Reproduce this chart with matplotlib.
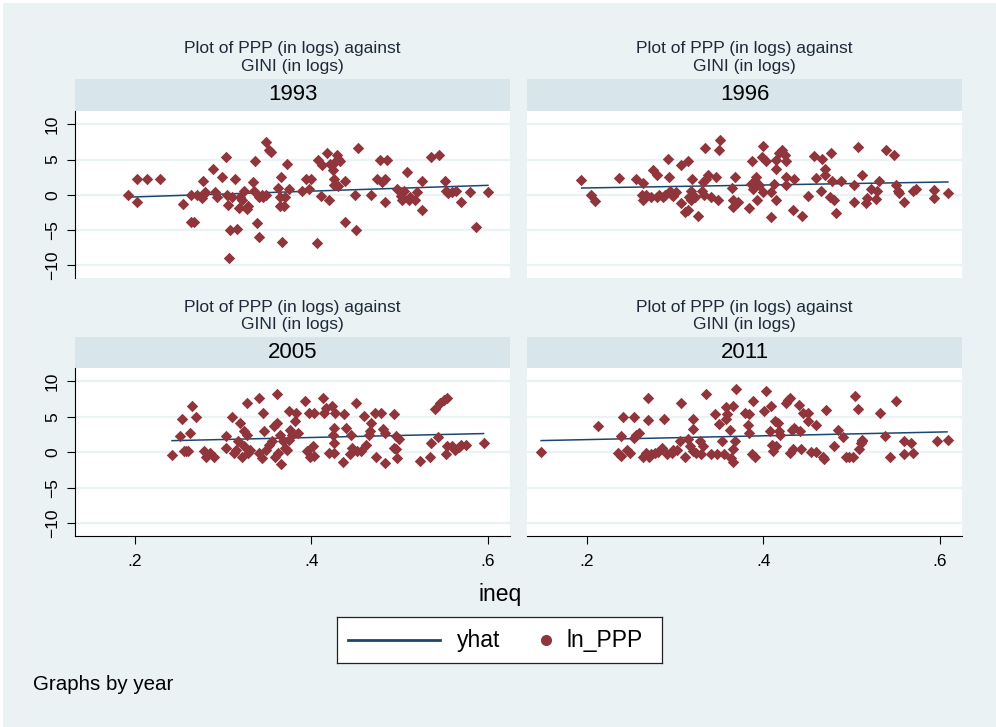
import matplotlib.pyplot as plt
from matplotlib.patches import Rectangle

plt.rcParams['font.family'] = ['Liberation Sans', 'DejaVu Sans']

# ineq (x) and ln_PPP (y) per year
years = ['1993', '1996', '2005', '2011']

ineq_1993 = [0.192, 0.202, 0.202, 0.214, 0.228, 0.254, 0.263, 0.264, 0.267, 0.270,
             0.277, 0.277, 0.279, 0.276, 0.288, 0.291, 0.293, 0.299, 0.303, 0.304,
             0.305, 0.306, 0.308, 0.310, 0.313, 0.316, 0.318, 0.319, 0.321, 0.323,
             0.327, 0.328, 0.334, 0.335, 0.336, 0.338, 0.340, 0.341, 0.344, 0.345,
             0.348, 0.349, 0.352, 0.354, 0.362, 0.364, 0.364, 0.365, 0.367, 0.369,
             0.370, 0.372, 0.375, 0.389, 0.394, 0.397, 0.399, 0.406, 0.407, 0.411,
             0.412, 0.418, 0.420, 0.421, 0.424, 0.425, 0.425, 0.427, 0.429, 0.430,
             0.432, 0.430, 0.438, 0.438, 0.449, 0.451, 0.453, 0.468, 0.474, 0.478,
             0.480, 0.483, 0.483, 0.486, 0.497, 0.501, 0.503, 0.505, 0.508, 0.510,
             0.512, 0.517, 0.520, 0.525, 0.525, 0.536, 0.544, 0.551, 0.553, 0.555,
             0.559, 0.564, 0.570, 0.580, 0.586, 0.600]
ppp_1993 = [0, -1.0, 2.3, 2.3, 2.3, -1.25, 0, -3.85, -3.85, 0,
            1.9, 0, 0.4, -0.45, 3.7, 0.4, -0.3, 2.5, 5.4, 0,
            -1.5, -8.9, -5.0, -0.3, 2.3, -4.8, -1.8, -0.3, -0.7, 0.6,
            -2.0, -1.6, 1.8, 0.6, 4.75, -4.0, -0.3, -6.0, 0, -0.3,
            0, 7.5, 6.4, 6.1, 1.0, -0.3, -1.6, 2.5, -6.7, -1.6,
            -0.3, 4.4, 0.9, 0.6, 2.3, 0.9, 2.3, -6.9, 5.0, -0.2,
            4.2, 5.9, -0.8, 4.4, 3.5, 2.2, 1.35, 4.7, 5.6, 5.1,
            4.8, 1.2, 2.0, -3.85, 0, -5.0, 6.6, 0, 2.2, 4.9,
            1.8, 2.2, -1.0, 4.9, 0.9, -0.1, -0.8, 0.6, 3.3, -0.8,
            -0.3, -0.7, 0.4, -2.2, 2.0, 5.4, 5.6, 1.9, 0.6, 0.2,
            0.4, 0.6, -1.0, 0.4, -4.5, 0.4]

ineq_1996 = [0.193, 0.205, 0.209, 0.236, 0.255, 0.264, 0.262, 0.263, 0.267, 0.273,
             0.275, 0.279, 0.279, 0.282, 0.286, 0.288, 0.292, 0.293, 0.294, 0.296,
             0.298, 0.301, 0.306, 0.306, 0.311, 0.314, 0.314, 0.316, 0.318, 0.319,
             0.318, 0.322, 0.326, 0.330, 0.331, 0.333, 0.334, 0.335, 0.337, 0.341,
             0.346, 0.349, 0.350, 0.351, 0.364, 0.365, 0.365, 0.368, 0.371, 0.384,
             0.386, 0.387, 0.388, 0.390, 0.392, 0.393, 0.395, 0.398, 0.399, 0.400,
             0.403, 0.409, 0.409, 0.412, 0.414, 0.414, 0.414, 0.418, 0.421, 0.424,
             0.426, 0.425, 0.426, 0.433, 0.435, 0.444, 0.450, 0.457, 0.459, 0.465,
             0.466, 0.470, 0.470, 0.475, 0.477, 0.478, 0.480, 0.482, 0.488, 0.503,
             0.503, 0.507, 0.512, 0.516, 0.517, 0.522, 0.527, 0.529, 0.531, 0.539,
             0.548, 0.550, 0.552, 0.554, 0.559, 0.569, 0.573, 0.593, 0.593, 0.609]
ppp_1996 = [2.05, 0, -0.9, 2.4, 2.3, 1.7, 0, -0.8, 0, -0.3,
            3.5, 2.8, -0.3, 0, -0.3, 0, 5.1, 2.5, 0.6, 0,
            -0.1, 0.4, 4.3, -1.1, -2.4, 4.8, -2.1, -0.3, 0.6, 2.2,
            -0.8, -0.3, -3.0, 0.6, 1.8, 0, 6.6, 2.3, 2.8, -0.3,
            2.6, -0.8, 6.3, 7.8, 1.0, -0.8, -1.7, 2.6, -1.0, -1.9,
            1.6, 4.8, 0.9, 2.0, 2.5, -0.8, 1.4, 5.4, 0.4, 7.0,
            4.8, -3.2, 0.4, 1.6, 3.7, -0.8, 5.0, 5.9, 6.4, 5.7,
            4.8, 2.5, 1.4, -2.1, 2.2, -3.0, -0.1, 5.5, 2.4, 0.6,
            5.1, 3.7, 2.8, -0.3, 5.9, 2.0, -0.8, -2.6, 2.0, 1.4,
            -1.0, 6.8, 2.8, -1.2, -0.5, 0.9, -0.6, 0.6, 2.0, 6.3,
            5.7, 1.4, 0.6, 0.3, -1.0, 0.6, 0.9, 0.7, -0.4, 0.3]

ineq_2005 = [0.242, 0.251, 0.253, 0.255, 0.258, 0.260, 0.262, 0.265, 0.269, 0.278,
             0.281, 0.285, 0.289, 0.303, 0.303, 0.310, 0.312, 0.315, 0.317, 0.319,
             0.321, 0.323, 0.324, 0.327, 0.328, 0.327, 0.330, 0.340, 0.341, 0.344,
             0.345, 0.346, 0.349, 0.352, 0.355, 0.357, 0.359, 0.361, 0.361, 0.362,
             0.365, 0.364, 0.368, 0.370, 0.372, 0.374, 0.375, 0.376, 0.378, 0.381,
             0.383, 0.385, 0.393, 0.395, 0.398, 0.397, 0.402, 0.403, 0.403, 0.413,
             0.414, 0.417, 0.420, 0.423, 0.424, 0.425, 0.425, 0.426, 0.427, 0.436,
             0.437, 0.439, 0.445, 0.444, 0.446, 0.450, 0.452, 0.456, 0.460, 0.462,
             0.465, 0.466, 0.467, 0.472, 0.473, 0.479, 0.481, 0.483, 0.483, 0.493,
             0.494, 0.496, 0.497, 0.499, 0.496, 0.523, 0.534, 0.536, 0.540, 0.543,
             0.546, 0.550, 0.554, 0.553, 0.554, 0.559, 0.563, 0.567, 0.569, 0.575,
             0.596]
ppp_2005 = [-0.4, 2.3, 4.7, 0.15, 0.15, 0.15, 2.8, 6.6, 5.0, 0.15,
            -0.6, -0.1, -0.6, 2.3, 0.6, 5.0, -0.1, 0.4, 1.6, 4.1,
            -0.6, 3.0, 0.85, 2.5, -0.1, 6.9, 0.4, 7.7, -0.1, -0.8,
            5.6, 3.0, 0.4, 1.1, 1.6, 3.7, -0.6, 8.3, 4.1, -0.1,
            -1.6, 2.5, 1.6, 0.6, 0.4, 1.8, 5.8, 3.2, 2.5, 4.4,
            5.6, 2.8, 7.2, 0.15, -0.6, 5.6, 0.95, -0.5, 5.6, 7.7,
            5.6, 6.3, -0.1, 6.6, 2.5, 3.5, 1.3, -0.1, 5.6, -1.3,
            5.4, 3.5, 2.5, -0.3, 0.6, 6.9, 0.15, 0.15, 5.1, 1.1,
            2.5, 3.0, 4.1, 5.6, -0.65, 5.6, 3.3, -1.5, 2.8, 5.4,
            0.6, 2.3, -0.8, 1.9, 0.5, -1.2, -0.7, 1.3, 6.05, 2.2,
            7.0, 7.4, 7.7, -0.3, 0.95, 0.95, 0.4, 0.75, 1.1, 1.1,
            1.3]

ineq_2011 = [0.148, 0.212, 0.235, 0.238, 0.239, 0.241, 0.245, 0.249, 0.253, 0.253,
             0.256, 0.259, 0.264, 0.267, 0.269, 0.269, 0.270, 0.273, 0.277, 0.281,
             0.285, 0.287, 0.291, 0.296, 0.298, 0.302, 0.307, 0.305, 0.311, 0.315,
             0.317, 0.320, 0.320, 0.320, 0.324, 0.328, 0.329, 0.332, 0.335, 0.341,
             0.345, 0.347, 0.350, 0.353, 0.355, 0.357, 0.358, 0.359, 0.362, 0.363,
             0.365, 0.366, 0.366, 0.368, 0.369, 0.379, 0.382, 0.384, 0.384, 0.387,
             0.388, 0.390, 0.401, 0.403, 0.407, 0.408, 0.410, 0.411, 0.413, 0.414,
             0.416, 0.418, 0.419, 0.425, 0.428, 0.430, 0.430, 0.432, 0.433, 0.435,
             0.441, 0.440, 0.442, 0.445, 0.450, 0.450, 0.454, 0.459, 0.460, 0.468,
             0.469, 0.471, 0.480, 0.484, 0.490, 0.493, 0.497, 0.501, 0.504, 0.507,
             0.508, 0.510, 0.512, 0.512, 0.532, 0.538, 0.543, 0.550, 0.559, 0.559,
             0.567, 0.570, 0.597, 0.609]
ppp_2011 = [0.05, 3.7, -0.1, 2.3, -0.5, 5.0, 0.4, -0.1, 5.0, 2.0,
            2.5, 2.8, -0.6, -0.1, 7.6, 4.5, -0.65, -0.3, -0.1, 0,
            0.6, 4.7, -0.3, -0.1, 0.4, 0.4, 6.9, 1.65, -0.6, 1.95,
            0.85, 4.7, 3.3, 0.15, -0.1, 1.55, -0.3, 0.85, 8.3, -0.3,
            5.45, -0.3, 4.0, 1.55, -0.3, 6.45, 4.65, 5.35, 3.1, -0.8,
            -1.3, 6.5, 0.5, 1.55, 8.9, 5.6, 3.9, 2.8, 5.45, -0.3,
            7.25, -0.6, 5.9, 8.7, 3.0, 6.6, 1.1, 0.15, 4.4, 0.85,
            4.2, 3.0, 2.5, 7.0, 7.4, 7.7, -0.1, 3.2, 0.5, 3.5,
            3.0, 6.7, 0.5, 5.6, 5.6, 4.4, 0, 3.8, 0, -0.6,
            -0.9, 6.0, 0.85, 3.2, 2.2, -0.6, -0.6, -0.6, 7.9, 6.05,
            0.5, 1.3, 1.8, 1.55, 5.6, 2.35, -0.6, 7.25, 1.55, -0.3,
            1.3, -0.1, 1.55, 1.8]

# fitted line (yhat), endpoints per year
yhat_x_1993 = [0.196, 0.600]
yhat_1993 = [-0.31, 1.35]
yhat_x_1996 = [0.194, 0.609]
yhat_1996 = [0.97, 1.83]
yhat_x_2005 = [0.242, 0.595]
yhat_2005 = [1.65, 2.65]
yhat_x_2011 = [0.148, 0.608]
yhat_2011 = [1.66, 2.89]

y_ticks = [-10, -5, 0, 5, 10]
x_ticks = [0.2, 0.4, 0.6]
x_labels = ['.2', '.4', '.6']

W, H = 996, 727
BG = '#EAF2F3'
STRIP = '#D8E5EA'
MAROON = '#90353B'
NAVY = '#1A476F'


def box(x0, y0, x1, y1):
    # pixel box (from top-left) -> figure fraction rect
    return [x0 / W, 1 - y1 / H, (x1 - x0) / W, (y1 - y0) / H]


fig = plt.figure(figsize=(W / 100, H / 100), dpi=100)
fig.patch.set_facecolor('white')
fig.patches.append(Rectangle((3 / W, 0), 1, 1 - 3 / H, transform=fig.transFigure,
                             facecolor=BG, edgecolor='none', zorder=-10))

panels = [
    (years[0], ineq_1993, ppp_1993, yhat_x_1993, yhat_1993, 0, 0),
    (years[1], ineq_1996, ppp_1996, yhat_x_1996, yhat_1996, 0, 1),
    (years[2], ineq_2005, ppp_2005, yhat_x_2005, yhat_2005, 1, 0),
    (years[3], ineq_2011, ppp_2011, yhat_x_2011, yhat_2011, 1, 1),
]
col_x = [75, 527]
pw = 435
rows = [dict(title=(49, 66), strip=(79, 111), plot=(111, 278)),
        dict(title=(307, 324), strip=(337, 368), plot=(368, 536))]

for year, xs, ys, hx, hy, r, c in panels:
    x0 = col_x[c]
    lay = rows[r]
    cx = x0 + pw / 2

    fig.text(cx / W, 1 - lay['title'][0] / H, 'Plot of PPP (in logs) against',
             ha='center', va='center', fontsize=12.5, color='#1e2a3a')
    fig.text(cx / W, 1 - lay['title'][1] / H, 'GINI (in logs)',
             ha='center', va='center', fontsize=12.5, color='#1e2a3a')

    sax = fig.add_axes(box(x0, lay['strip'][0], x0 + pw, lay['strip'][1]))
    sax.set_facecolor(STRIP)
    for sp in sax.spines.values():
        sp.set_visible(False)
    sax.set_xticks([])
    sax.set_yticks([])
    sax.text(0.5, 0.5, year, ha='center', va='center', fontsize=16,
             transform=sax.transAxes)

    ax = fig.add_axes(box(x0, lay['plot'][0], x0 + pw, lay['plot'][1]))
    ax.set_facecolor('white')
    ax.set_xlim(0.132, 0.625)
    ax.set_ylim(-11.8, 11.9)
    ax.set_yticks(y_ticks)
    ax.set_xticks(x_ticks)
    ax.grid(axis='y', color=BG, lw=1.6, zorder=0)
    ax.set_axisbelow(True)
    ax.plot(hx, hy, color=NAVY, lw=1.1, zorder=2)
    ax.scatter(xs, ys, marker='D', s=34, color=MAROON, linewidths=0, zorder=3)

    for sp in ax.spines.values():
        sp.set_visible(False)
    ax.tick_params(length=5.8, width=0.8, color='black')
    if c == 0:
        ax.spines['left'].set_visible(True)
        ax.spines['left'].set_linewidth(0.8)
        ax.tick_params(axis='y', labelsize=12.5, labelrotation=90, pad=5)
        for lab in ax.get_yticklabels():
            lab.set_va('center')
    else:
        ax.tick_params(axis='y', left=False, labelleft=False)
    if r == 1:
        ax.spines['bottom'].set_visible(True)
        ax.spines['bottom'].set_linewidth(0.8)
        ax.set_xticklabels(x_labels)
        ax.tick_params(axis='x', labelsize=12.5, pad=7)
    else:
        ax.tick_params(axis='x', bottom=False, labelbottom=False)

fig.text(500 / W, 1 - 595 / H, 'ineq', ha='center', va='center', fontsize=16.5)
fig.text(33 / W, 1 - 684 / H, 'Graphs by year', ha='left', va='center', fontsize=14.8)

# legend drawn in its own pixel-space box
lax = fig.add_axes(box(337, 617, 662, 663))
lax.set_xlim(337, 662)
lax.set_ylim(663, 617)
lax.set_facecolor('white')
lax.set_xticks([])
lax.set_yticks([])
for sp in lax.spines.values():
    sp.set_linewidth(0.9)
    sp.set_color('#222222')
lax.plot([348, 440], [640, 640], color=NAVY, lw=2)
lax.text(457, 640, 'yhat', ha='left', va='center', fontsize=16.5)
lax.plot([546], [640], marker='o', ls='', ms=8, color=MAROON, mec='none')
lax.text(566, 640, 'ln_PPP', ha='left', va='center', fontsize=16.5)

fig.savefig('out.png', dpi=100, facecolor=fig.get_facecolor())
